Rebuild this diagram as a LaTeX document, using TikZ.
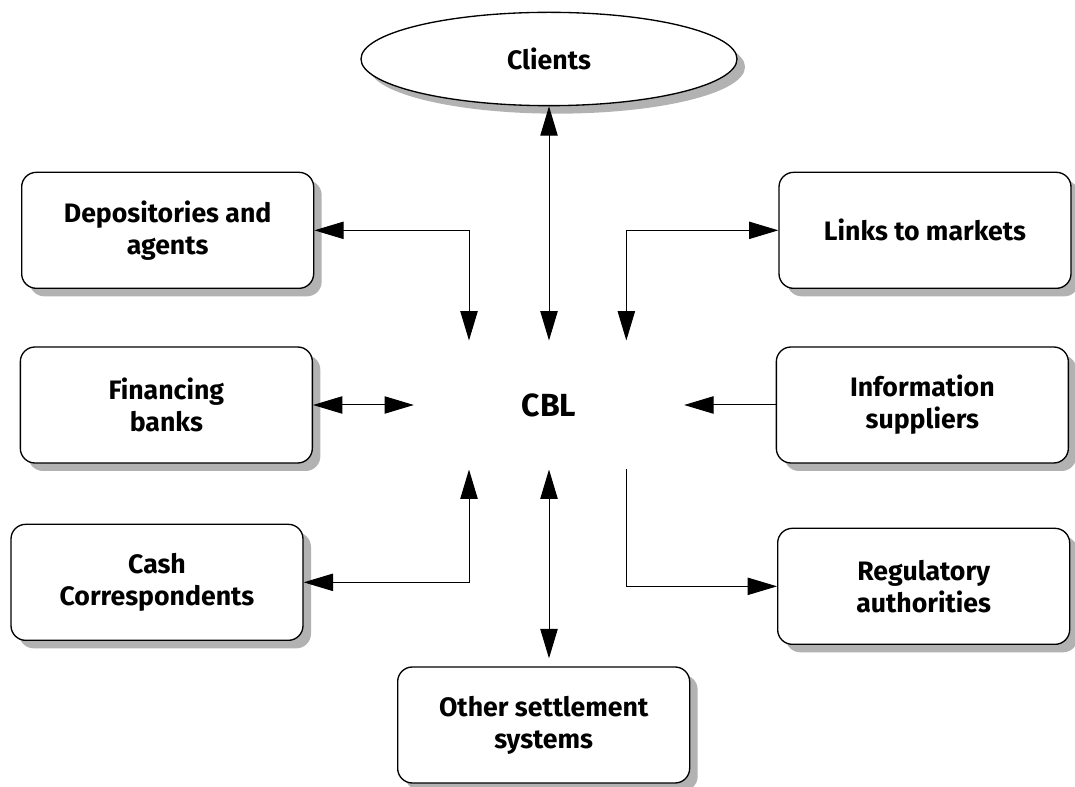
\documentclass[tikz,border=0pt]{standalone}
\usepackage{fontspec}
\setmainfont{Fira Sans}
\usetikzlibrary{shapes.geometric}
\usetikzlibrary{positioning}
\usetikzlibrary{shadows}
\usetikzlibrary{arrows.meta}

\begin{document}
\begin{tikzpicture}
	[x=0.75pt, y=-0.75pt, on grid, line width=0.75pt, >={Triangle[length=22pt, width=13pt]},
	box/.style = {draw, line width=1pt, rounded corners=11pt, fill=white, minimum width=219pt, minimum height=87pt, align=center, font=\bfseries\fontsize{20}{24}\selectfont, drop shadow={shadow xshift=6pt, shadow yshift=-6pt, fill=black!30, opacity=1}},
	oval/.style = {draw, ellipse, line width=1pt, fill=white, inner sep=0pt, minimum width=282pt, minimum height=70pt, font=\bfseries\fontsize{20}{24}\selectfont, drop shadow={shadow xshift=6pt, shadow yshift=-6pt, fill=black!30, opacity=1}},
	hub/.style = {minimum width=202pt, minimum height=96pt, font=\bfseries\fontsize{24}{28}\selectfont}]
	\useasboundingbox (0,0) rectangle (1075,787);
	\node[hub] (0) at (549,405) {CBL};
	\node[oval] (1) [above = 259.5pt of 0] {Clients};
	\node[box] (2) [above left = 131pt and 286pt of 0] {Depositories and\\agents};
	\node[box] (3) [left = 287pt of 0] {Financing\\banks};
	\node[box] (4) [below left = 133pt and 294pt of 0] {Cash\\Correspondents};
	\node[box] (5) [below = 240pt of 0, xshift=-4pt] {Other settlement\\systems};
	\node[box] (6) [above right = 131pt and 282pt of 0] {Links to markets};
	\node[box] (7) [right = 280pt of 0] {Information\\suppliers};
	\node[box] (8) [below right = 136pt and 281pt of 0] {Regulatory\\authorities};
	\draw[<->] (1) -- (0);
	\draw[<->] (2) -| ([xshift=-60pt]0.north);
	\draw[<->] (3) -- (0);
	\draw[<->] (4) -| ([xshift=-60pt]0.south);
	\draw[<->, shorten >=6pt] (0.south) -- (0.south |- 5.north);
	\draw[<->] (6) -| ([xshift=58pt]0.north);
	\draw[->] (7) -- (0);
	\draw[->] ([xshift=58pt]0.south) |- (8);
\end{tikzpicture}
\end{document}
